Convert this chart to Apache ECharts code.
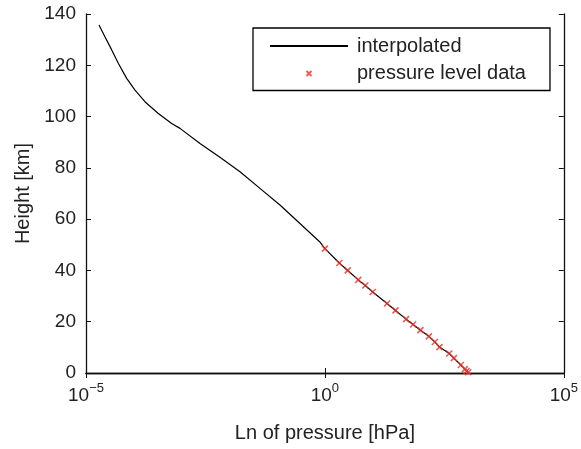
<!DOCTYPE html>
<html>
<head>
<meta charset="utf-8">
<script src="https://cdn.jsdelivr.net/npm/echarts@6/dist/echarts.min.js"></script>
<style>
  html, body { margin: 0; padding: 0; background: #fff; }
  #chart { width: 581px; height: 449px; }
</style>
</head>
<body>
<div id="chart"></div>
<script>
// interpolated profile above the pressure levels (hPa, km)
const upperPressure = [1.87e-5, 2.49e-5, 3.45e-5, 4.74e-5, 7.10e-5, 1.06e-4, 1.71e-4, 3.26e-4, 6.21e-4, 9.27e-4, 2.43e-3, 6.35e-3, 0.0167, 0.0437, 0.1146, 0.300, 0.785];
const upperHeight   = [135.7, 131.1, 126.0, 120.8, 114.9, 110.3, 105.8, 101.2, 97.3, 95.4, 89.5, 84.1, 78.5, 72.0, 65.5, 58.3, 51.1];

// pressure level data (hPa, km)
const levelPressure = [1, 2, 3, 5, 7, 10, 20, 30, 50, 70, 100, 150, 200, 250, 400, 500, 700, 850, 925, 1000];
const levelHeight   = [48.5, 42.9, 40.0, 36.3, 34.1, 31.6, 27.1, 24.4, 21.0, 18.9, 16.7, 14.3, 12.1, 10.1, 7.6, 5.8, 3.1, 1.5, 0.8, 0.3];

const yTicks = [0, 20, 40, 60, 80, 100, 120, 140];

const font = 'Liberation Sans, Arial, Helvetica, sans-serif';
const red = '#e5352b';

let chart = echarts.init(document.getElementById('chart'));

const lineData = upperPressure.map((p, i) => [p, upperHeight[i]])
    .concat(levelPressure.map((p, i) => [p, levelHeight[i]]));
const pointData = levelPressure.map((p, i) => [p, levelHeight[i]]);

// 10^n 标签
function powLabel(v) {
    const e = Math.round(Math.log10(v));
    return '{b|10}{s|' + (e < 0 ? '\u2212' + (-e) : e) + '}';
}

const option = {
    animation: false,
    backgroundColor: '#fff',
    grid: { left: 86, right: 17, top: 14, bottom: 76 },
    legend: {
        orient: 'vertical',
        left: 253,
        top: 28,
        padding: [8, 24, 7, 16],
        itemWidth: 78,
        itemHeight: 5,
        itemGap: 7.5,
        borderColor: '#000',
        borderWidth: 1.3,
        backgroundColor: '#fff',
        textStyle: { fontFamily: font, fontSize: 20, color: '#222', padding: [0, 0, 0, 4] },
        data: [
            { name: 'interpolated', itemStyle: { opacity: 0 } },
            'pressure level data'
        ]
    },
    xAxis: [{
        type: 'log',
        logBase: 10,
        min: 1e-5,
        max: 1e5,
        interval: 5,
        name: 'Ln of pressure [hPa]',
        nameLocation: 'middle',
        nameGap: 50,
        nameTextStyle: { fontFamily: font, fontSize: 20, color: '#222' },
        axisLine: { lineStyle: { color: '#111', width: 1.3 } },
        axisTick: { inside: true, length: 5, lineStyle: { color: '#111' } },
        splitLine: { show: false },
        minorTick: { show: false },
        axisLabel: {
            margin: 9,
            formatter: powLabel,
            rich: {
                b: { fontFamily: font, fontSize: 19, color: '#222' },
                s: { fontFamily: font, fontSize: 13, color: '#222', padding: [0, 0, 14, 0] }
            }
        }
    }, {
        type: 'log',
        logBase: 10,
        min: 1e-5,
        max: 1e5,
        interval: 5,
        position: 'top',
        axisLine: { lineStyle: { color: '#111', width: 1.3 } },
        axisTick: { inside: true, length: 5, lineStyle: { color: '#111' } },
        axisLabel: { show: false },
        splitLine: { show: false }
    }],
    yAxis: [{
        type: 'value',
        min: yTicks[0],
        max: yTicks[yTicks.length - 1],
        interval: 20,
        name: 'Height [km]',
        nameLocation: 'middle',
        nameGap: 52,
        nameTextStyle: { fontFamily: font, fontSize: 20, color: '#222' },
        axisLine: { show: true, lineStyle: { color: '#111', width: 1.3 } },
        axisTick: { show: true, inside: true, length: 5, lineStyle: { color: '#111' } },
        splitLine: { show: false },
        axisLabel: { margin: 10, fontFamily: font, fontSize: 19, color: '#222' }
    }, {
        type: 'value',
        min: yTicks[0],
        max: yTicks[yTicks.length - 1],
        interval: 20,
        position: 'right',
        axisLine: { show: true, lineStyle: { color: '#111', width: 1.3 } },
        axisTick: { show: true, inside: true, length: 5, lineStyle: { color: '#111' } },
        axisLabel: { show: false },
        splitLine: { show: false }
    }],
    series: [{
        name: 'interpolated',
        type: 'line',
        data: lineData,
        symbol: 'none',
        smooth: false,
        lineStyle: { color: '#000', width: 1.2 },
        itemStyle: { color: '#000' },
        z: 2
    }, {
        name: 'pressure level data',
        type: 'scatter',
        data: pointData,
        symbol: 'path://M0,0L10,10M10,0L0,10',
        symbolSize: 6,
        symbolKeepAspect: true,
        itemStyle: { color: 'none', borderColor: red, borderWidth: 1.6 },
        z: 3
    }]
};

chart.setOption(option);
</script>
</body>
</html>
